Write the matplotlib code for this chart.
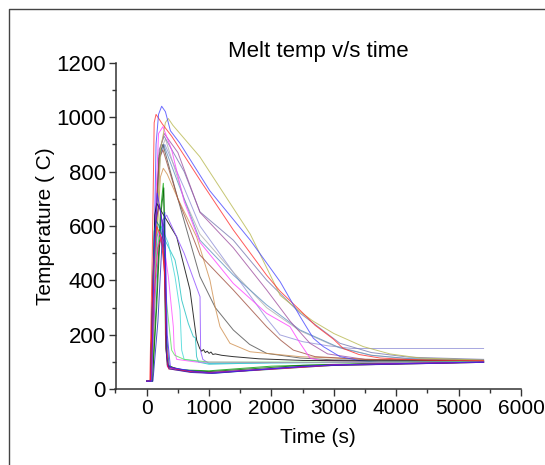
import matplotlib
matplotlib.use("Agg")
import matplotlib.pyplot as plt
from matplotlib.ticker import MultipleLocator
from matplotlib.lines import Line2D

plt.rcParams['font.family'] = ['Liberation Sans', 'DejaVu Sans']

# ---------------- data (time s, temperature C) ----------------
t_blue = [0, 70, 110, 150, 190, 240, 300, 380, 530, 1010, 1660, 2140, 2460, 2670, 2830, 3100, 3400, 3740, 4500, 5400]
T_blue = [30, 30, 400, 900, 1010, 1040, 1020, 950, 905, 730, 548, 395, 267, 188, 157, 120, 106, 98, 100, 101]

t_khaki = [0, 90, 150, 220, 300, 346, 420, 850, 1660, 2140, 2460, 2670, 3000, 3470, 3900, 4380, 5400]
T_khaki = [30, 30, 500, 880, 980, 995, 970, 855, 570, 345, 285, 250, 205, 157, 130, 115, 107]

t_red = [0, 50, 90, 120, 150, 250, 400, 880, 1390, 1920, 2140, 2460, 2700, 2990, 3150, 3400, 3740, 4500, 5400]
T_red = [30, 30, 500, 980, 1010, 975, 930, 760, 585, 420, 360, 290, 235, 185, 150, 128, 115, 106, 105]

t_mag = [0, 70, 130, 190, 260, 400, 600, 854, 1388, 1923, 2297, 2457, 2617, 2800, 3500, 5400]
T_mag = [30, 30, 600, 940, 965, 880, 690, 540, 389, 279, 230, 170, 115, 105, 102, 100]

t_slate = [0, 80, 140, 200, 280, 600, 854, 1388, 1923, 2457, 3098, 3600, 4200, 5400]
T_slate = [30, 30, 600, 880, 930, 800, 652, 548, 401, 280, 169, 135, 118, 110]

t_lav = [0, 80, 140, 210, 290, 600, 854, 1388, 1923, 2136, 2500, 2900, 3300, 5400]
T_lav = [30, 30, 500, 850, 900, 740, 600, 430, 260, 200, 175, 160, 150, 150]

t_lgray = [0, 80, 150, 230, 300, 600, 854, 1388, 1923, 2457, 3000, 3600, 4200, 5400]
T_lgray = [30, 30, 600, 880, 920, 700, 570, 430, 300, 215, 160, 125, 112, 105]

t_orchid = [0, 80, 140, 210, 280, 500, 854, 1388, 1923, 2300, 2617, 2900, 3500, 5400]
T_orchid = [30, 30, 600, 880, 940, 870, 650, 520, 365, 250, 169, 130, 110, 105]

t_dgray = [0, 80, 140, 200, 260, 500, 854, 1100, 1388, 1650, 1923, 2457, 3000, 5400]
T_dgray = [30, 30, 600, 860, 900, 700, 414, 300, 218, 165, 132, 115, 108, 104]

t_tan = [0, 80, 150, 220, 266, 330, 500, 800, 1014, 1100, 1175, 1335, 1655, 2457, 3500, 5400]
T_tan = [30, 30, 500, 780, 812, 790, 700, 560, 401, 300, 230, 169, 138, 120, 110, 106]

t_brown = [0, 80, 140, 200, 260, 500, 854, 1388, 1923, 2150, 2350, 2700, 3500, 5400]
T_brown = [30, 30, 600, 850, 880, 700, 493, 365, 230, 180, 144, 120, 110, 106]

t_steel = [0, 80, 140, 200, 270, 500, 854, 1388, 1923, 2457, 3098, 3600, 4200, 5400]
T_steel = [30, 30, 600, 850, 900, 760, 548, 420, 310, 218, 152, 125, 113, 108]

t_black = [0, 60, 100, 130, 160, 220, 481, 694, 801, 850, 880, 910, 940, 970, 1000, 1030, 1060, 1100, 1200, 1388, 1800, 2500, 5400]
T_black = [30, 30, 400, 640, 683, 660, 560, 365, 181, 150, 140, 146, 135, 140, 132, 137, 128, 130, 125, 120, 112, 106, 102]

t_violet = [0, 70, 150, 250, 320, 600, 855, 865, 900, 1000, 2000, 5400]
T_violet = [30, 30, 400, 620, 640, 500, 340, 140, 110, 95, 98, 100]

t_cyan = [0, 70, 120, 160, 230, 293, 454, 506, 561, 667, 748, 780, 800, 830, 1000, 2000, 5400]
T_cyan = [30, 30, 400, 560, 600, 548, 475, 414, 328, 242, 193, 190, 120, 100, 92, 98, 100]

t_cyan2 = [0, 70, 110, 150, 250, 347, 454, 534, 561, 600, 1000, 3000, 5400]
T_cyan2 = [30, 30, 450, 600, 590, 536, 414, 291, 144, 110, 95, 98, 100]

t_green = [0, 90, 150, 220, 266, 285, 300, 330, 500, 1000, 2000, 3500, 5400]
T_green = [30, 30, 300, 650, 757, 600, 200, 90, 72, 68, 85, 95, 100]

t_dgreen = [0, 90, 160, 230, 275, 290, 305, 340, 600, 1000, 2500, 5400]
T_dgreen = [30, 30, 300, 650, 740, 500, 150, 85, 70, 65, 88, 100]

t_navy = [0, 100, 180, 250, 290, 305, 320, 360, 700, 1050, 2500, 5400]
T_navy = [30, 30, 250, 560, 650, 400, 120, 75, 62, 58, 85, 99]

t_magf = [0, 80, 130, 200, 280, 347, 427, 440, 480, 800, 3000, 5400]
T_magf = [30, 30, 450, 580, 520, 414, 230, 150, 110, 100, 98, 100]

t_lgreen = [0, 80, 130, 200, 260, 320, 400, 450, 600, 1000, 3000, 5400]
T_lgreen = [30, 30, 450, 560, 520, 316, 144, 125, 110, 100, 100, 101]

t_teal = [0, 60, 90, 120, 150, 200, 280, 320, 360, 800, 1100, 3000, 5400]
T_teal = [30, 30, 300, 580, 620, 600, 540, 200, 80, 65, 60, 88, 99]

t_purple = [0, 60, 100, 150, 200, 260, 300, 330, 600, 1000, 3000, 5400]
T_purple = [30, 30, 400, 620, 680, 600, 300, 85, 68, 62, 90, 100]

t_pink = [0, 70, 120, 180, 240, 290, 310, 340, 700, 1050, 3000, 5400]
T_pink = [30, 30, 350, 520, 560, 450, 150, 80, 64, 60, 90, 100]

t_royal = [0, 80, 120, 170, 230, 300, 330, 380, 800, 1000, 3000, 5400]
T_royal = [30, 30, 500, 720, 640, 520, 200, 80, 65, 60, 90, 100]

t_redf = [0, 60, 110, 160, 230, 290, 320, 350, 700, 1000, 3000, 5400]
T_redf = [30, 30, 450, 600, 560, 420, 150, 75, 64, 60, 88, 99]

curves = [
    (t_lav, T_lav, '#9090d8'),
    (t_lgray, T_lgray, '#b0b0b0'),
    (t_steel, T_steel, '#6090c0'),
    (t_slate, T_slate, '#7878b0'),
    (t_orchid, T_orchid, '#a050a0'),
    (t_dgray, T_dgray, '#505050'),
    (t_tan, T_tan, '#d09050'),
    (t_brown, T_brown, '#a05040'),
    (t_mag, T_mag, '#ff40ff'),
    (t_khaki, T_khaki, '#b8b850'),
    (t_red, T_red, '#ff3030'),
    (t_blue, T_blue, '#4848ff'),
    (t_black, T_black, '#000000'),
    (t_violet, T_violet, '#9050ff'),
    (t_cyan, T_cyan, '#20c0c0'),
    (t_cyan2, T_cyan2, '#40d8d8'),
    (t_green, T_green, '#00a000'),
    (t_dgreen, T_dgreen, '#006000'),
    (t_magf, T_magf, '#ff50ff'),
    (t_lgreen, T_lgreen, '#60e060'),
    (t_teal, T_teal, '#008080'),
    (t_purple, T_purple, '#800080'),
    (t_pink, T_pink, '#ff0080'),
    (t_redf, T_redf, '#ff2020'),
    (t_navy, T_navy, '#2020c0'),
    (t_royal, T_royal, '#5020ff'),
]

# ---------------- figure ----------------
fig = plt.figure(figsize=(5.45, 4.65), dpi=100)
ax = fig.add_axes([115.5 / 545, 1 - 389.3 / 465, (521 - 115.5) / 545, (389.3 - 62.7) / 465])

for t, T, c in curves:
    ax.plot(t, T, color=c, lw=0.7, alpha=0.8)

ax.set_xlim(-500, 6000)
ax.set_ylim(0, 1200)
ax.xaxis.set_minor_locator(MultipleLocator(500))
ax.yaxis.set_major_locator(MultipleLocator(200))
ax.yaxis.set_minor_locator(MultipleLocator(100))
ax.set_xticks([0, 1000, 2000, 3000, 4000, 5000, 6000])
for s in ['top', 'right']:
    ax.spines[s].set_visible(False)
for s in ['left', 'bottom']:
    ax.spines[s].set_linewidth(1.1)
    ax.spines[s].set_color('#333333')
ax.tick_params(which='major', direction='out', length=5, width=1.0, color='#333333', pad=2)
ax.tick_params(axis='x', which='major', labelsize=15)
ax.tick_params(axis='y', which='major', labelsize=16)
ax.tick_params(which='minor', direction='out', length=3, width=1.0, color='#333333')

ax.set_xlabel('Time (s)', fontsize=15, labelpad=7)
ax.set_ylabel('Temperature ( C)', fontsize=15, labelpad=1)
ax.set_title('Melt temp v/s time', fontsize=16, pad=4)

# outer frame (top and left edges visible)
fig.add_artist(Line2D([8.5 / 545, 8.5 / 545, 1.0], [0.0, 1 - 9 / 465, 1 - 9 / 465],
                      transform=fig.transFigure, color='#444444', lw=1.0))

fig.savefig('out.png', dpi=100)
